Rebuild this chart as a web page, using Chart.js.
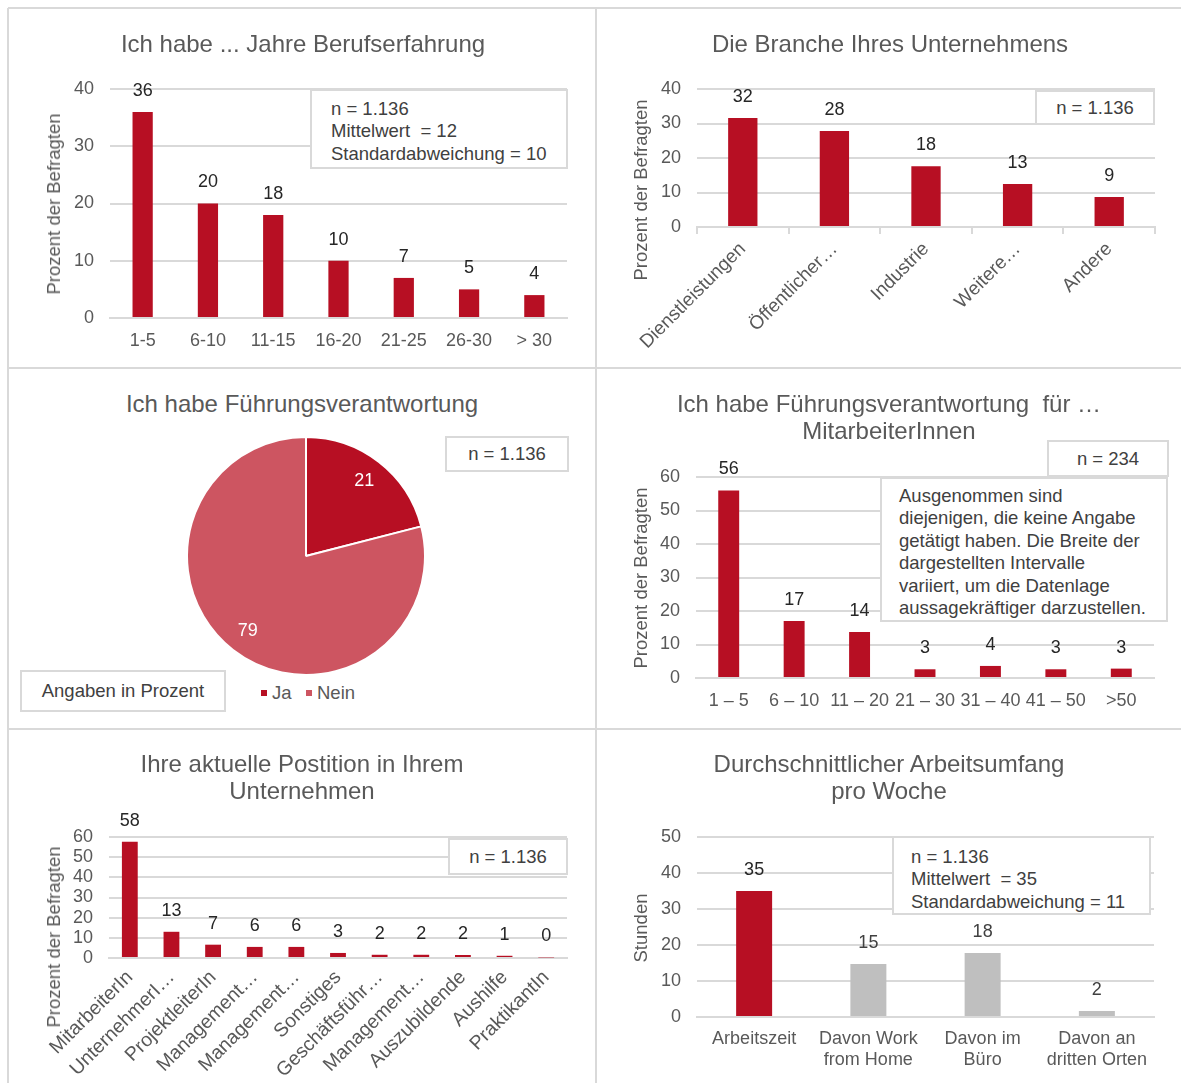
<!DOCTYPE html>
<html><head><meta charset="utf-8">
<script src="https://cdn.jsdelivr.net/npm/chart.js@4.4.1/dist/chart.umd.min.js"></script>
<style>
body{margin:0;background:#fff;width:1181px;height:1083px;overflow:hidden;position:relative;font-family:"Liberation Sans",Arial,sans-serif;}
.line{position:absolute;background:#d9d9d9;}
.box{position:absolute;border:2px solid #d9d9d9;box-sizing:border-box;background:#fff;}
.t{position:absolute;white-space:pre;color:#595959;}
.bt{position:absolute;white-space:nowrap;color:#404040;font-size:18.5px;line-height:22.5px;}
canvas{position:absolute;}
</style></head><body>
<script>
// ---------- DATA ----------
const expCats = ['1-5','6-10','11-15','16-20','21-25','26-30','> 30'];
const expVals = [36,20,18,10,7,5,4];
const expTicks = [0,10,20,30,40];

const branchCats = ['Dienstleistungen','Öffentlicher…','Industrie','Weitere…','Andere'];
const branchVals = [31.6,27.8,17.6,12.5,8.7];
const branchTicks = [0,10,20,30,40];

const leadCats = ['Ja','Nein'];
const leadVals = [21,79];

const teamCats = ['1 – 5','6 – 10','11 – 20','21 – 30','31 – 40','41 – 50','>50'];
const teamVals = [56,17,13.7,2.6,3.6,2.6,2.8];
const teamTicks = [0,10,20,30,40,50,60];

const posCats = ['MitarbeiterIn','UnternehmerI…','ProjektleiterIn','Management…','Management…','Sonstiges','Geschäftsführ…','Management…','Auszubildende','Aushilfe','PraktikantIn'];
const posVals = [57.6,13,6.6,5.5,5.5,2.5,1.6,1.6,1.5,1.1,0.3];
const posTicks = [0,10,20,30,40,50,60];

const hoursCats = [['Arbeitszeit'],['Davon Work','from Home'],['Davon im','Büro'],['Davon an','dritten Orten']];
const hoursVals = [35,14.7,17.8,1.7];
const hoursTicks = [0,10,20,30,40,50];

// ---------- STYLE ----------
const FAM = "'Liberation Sans', Arial, sans-serif";
const RED = '#b70f23', PINK = '#cd5561', GRAY = '#bfbfbf', GRID = '#d9d9d9', TXT = '#595959';
Chart.defaults.font.family = FAM;

function el(tag, cls, css, text){
  const d=document.createElement(tag); if(cls) d.className=cls;
  Object.assign(d.style, css); if(text!=null) d.textContent=text;
  document.body.appendChild(d); return d;
}
function valueLabels(colors){
  return {id:'valueLabels', afterDatasetsDraw(chart){
    const ctx=chart.ctx, meta=chart.getDatasetMeta(0), data=chart.data.datasets[0].data;
    ctx.save(); ctx.font='18px '+FAM; ctx.textAlign='center'; ctx.textBaseline='middle';
    meta.data.forEach((b,i)=>{ ctx.fillStyle=colors[i%colors.length]; ctx.fillText(String(Math.round(data[i])), b.x, b.y-21); });
    ctx.restore();
  }};
}
function barChart(o){
  const c=document.createElement('canvas'); c.width=o.w; c.height=o.h;
  c.style.left=o.x+'px'; c.style.top=o.y+'px'; document.body.appendChild(c);
  return new Chart(c,{
    type:'bar',
    data:{labels:o.labels, datasets:[{data:o.values, backgroundColor:o.colors, barPercentage:o.bp, categoryPercentage:1}]},
    options:{
      responsive:false, animation:false, devicePixelRatio:1,
      layout:{padding:{left:0,right:o.padR,top:o.padT,bottom:0}},
      plugins:{legend:{display:false},tooltip:{enabled:false},title:{display:false}},
      scales:{
        x:{
          grid:{display:!!o.xMarks, drawOnChartArea:false, drawTicks:!!o.xMarks, tickLength:7, color:GRID, lineWidth:2},
          border:{display:true,color:GRID,width:2},
          ticks:{color:TXT, font:{size:o.xFont||18}, minRotation:o.rot||0, maxRotation:o.rot||0, autoSkip:false, padding:o.xPad},
          afterFit:s=>{s.height=o.xH;}
        },
        y:{
          min:0, max:o.ticks[o.ticks.length-1],
          grid:{color:GRID,lineWidth:2,drawTicks:false},
          border:{display:false},
          ticks:{color:TXT, font:{size:18}, padding:16, autoSkip:false},
          afterBuildTicks:s=>{s.ticks=o.ticks.map(v=>({value:v}));},
          afterFit:s=>{s.width=o.yW;}
        }
      }
    },
    plugins:[valueLabels(o.labelColors)]
  });
}

// ---------- CHARTS ----------
barChart({x:10,y:10,w:584,h:356,yW:100,padR:27,padT:79,xH:48,labels:expCats,values:expVals,colors:RED,bp:0.31,ticks:expTicks,xPad:12,labelColors:['#262626']});
barChart({x:598,y:10,w:583,h:356,yW:99,padR:26,padT:79,xH:139,labels:branchCats,values:branchVals,colors:RED,bp:0.32,ticks:branchTicks,xPad:4,rot:45,xFont:19,xMarks:true,labelColors:['#262626']});
barChart({x:598,y:370,w:583,h:357,yW:98,padR:27,padT:107,xH:49,labels:teamCats,values:teamVals,colors:RED,bp:0.32,ticks:teamTicks,xPad:12,labelColors:['#262626']});
barChart({x:10,y:731,w:584,h:352,yW:99,padR:27,padT:106,xH:125,labels:posCats,values:posVals,colors:RED,bp:0.38,ticks:posTicks,xPad:8,rot:45,xFont:19.5,labelColors:['#262626']});
barChart({x:598,y:731,w:583,h:352,yW:99,padR:27,padT:106,xH:66,labels:hoursCats,values:hoursVals,colors:[RED,GRAY,GRAY,GRAY],bp:0.315,ticks:hoursTicks,xPad:11,labelColors:['#262626','#404040','#404040','#404040']});

// pie
(function(){
  const c=document.createElement('canvas'); c.width=240; c.height=240;
  c.style.left='186px'; c.style.top='436px'; document.body.appendChild(c);
  new Chart(c,{type:'pie',
    data:{labels:leadCats,datasets:[{data:leadVals,backgroundColor:[RED,PINK],borderColor:'#fff',borderWidth:2}]},
    options:{responsive:false,animation:false,devicePixelRatio:1,layout:{padding:0},plugins:{legend:{display:false},tooltip:{enabled:false}}},
    plugins:[{id:'pieLabels',afterDatasetsDraw(chart){
      const ctx=chart.ctx, meta=chart.getDatasetMeta(0), data=chart.data.datasets[0].data;
      ctx.save(); ctx.font='18px '+FAM; ctx.fillStyle='#fff'; ctx.textAlign='center'; ctx.textBaseline='middle';
      meta.data.forEach((a,i)=>{ const m=(a.startAngle+a.endAngle)/2, r=a.outerRadius*0.8;
        ctx.fillText(String(data[i]), a.x+Math.cos(m)*r, a.y+Math.sin(m)*r); });
      ctx.restore();
    }}]
  });
})();

// ---------- PANEL BORDERS ----------
[[8,1181-8,8],[8,1181-8,368],[8,1181-8,729]].forEach(([x,w,y])=>el('div','line',{left:x+'px',top:(y-1)+'px',width:w+'px',height:'2px'}));
[[8,8],[596,8]].forEach(([x,y])=>el('div','line',{left:(x-1)+'px',top:y+'px',width:'2px',height:(1083-y)+'px'}));

// ---------- TITLES ----------
function title(cx,cy,lines){ lines.forEach((s,i)=>el('div','t',{left:cx+'px',top:(cy+i*26.5)+'px',transform:'translate(-50%,-50%)',fontSize:'24px'},s)); }
function ytitle(cx,cy,s){ el('div','t',{left:cx+'px',top:cy+'px',transform:'translate(-50%,-50%) rotate(-90deg)',fontSize:'18.5px'},s); }
title(303,44,['Ich habe ... Jahre Berufserfahrung']);
title(890,44,['Die Branche Ihres Unternehmens']);
title(302,404,['Ich habe Führungsverantwortung']);
title(889,404,['Ich habe Führungsverantwortung  für …','MitarbeiterInnen']);
title(302,764,['Ihre aktuelle Postition in Ihrem','Unternehmen']);
title(889,764,['Durchschnittlicher Arbeitsumfang','pro Woche']);
ytitle(54,204,'Prozent der Befragten');
ytitle(641,190,'Prozent der Befragten');
ytitle(641,578,'Prozent der Befragten');
ytitle(54,937,'Prozent der Befragten');
ytitle(641,928,'Stunden');

// ---------- ANNOTATION BOXES ----------
function boxC(x,y,w,h,s){ el('div','box',{left:x+'px',top:y+'px',width:w+'px',height:h+'px'});
  el('div','bt',{left:(x+w/2)+'px',top:(y+h/2)+'px',transform:'translate(-50%,-50%)'},s); }
function boxL(x,y,w,h,tx,ty,lines){ el('div','box',{left:x+'px',top:y+'px',width:w+'px',height:h+'px'});
  const d=el('div','bt',{left:tx+'px',top:(ty-11.25)+'px',whiteSpace:'pre'}); d.textContent=lines.join('\n'); }
boxL(310,89,258,80,331,109,['n = 1.136','Mittelwert  = 12','Standardabweichung = 10']);
boxC(1035,90,120,35,'n = 1.136');
boxC(445,436,124,36,'n = 1.136');
boxC(20,670,206,42,'Angaben in Prozent');
boxC(1047,440,122,37,'n = 234');
boxL(880,477,288,145,899,496,['Ausgenommen sind','diejenigen, die keine Angabe','getätigt haben. Die Breite der','dargestellten Intervalle','variiert, um die Datenlage','aussagekräftiger darzustellen.']);
boxC(448,838,120,37,'n = 1.136');
boxL(892,836,259,79,911,857,['n = 1.136','Mittelwert  = 35','Standardabweichung = 11']);

// ---------- PIE LEGEND ----------
el('div','',{position:'absolute',left:'261px',top:'690px',width:'6px',height:'6px',background:RED});
el('div','t',{left:'272px',top:'693px',transform:'translateY(-50%)',fontSize:'18.5px'},leadCats[0]);
el('div','',{position:'absolute',left:'306px',top:'690px',width:'6px',height:'6px',background:PINK});
el('div','t',{left:'317px',top:'693px',transform:'translateY(-50%)',fontSize:'18.5px'},leadCats[1]);
</script>
</body></html>
